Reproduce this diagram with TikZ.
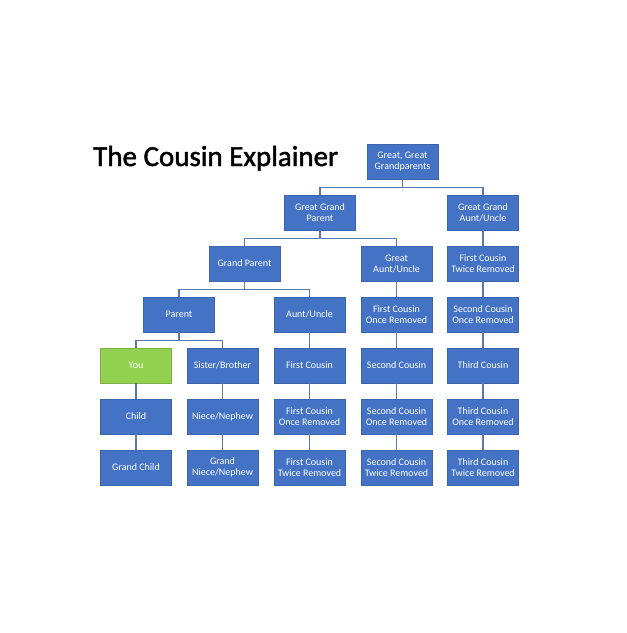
\documentclass[tikz,border=0pt]{standalone}
\usepackage{fontspec}
\setmainfont{Carlito}
\usetikzlibrary{positioning}
\definecolor{famblue}{HTML}{4472C4}
\definecolor{famedge}{HTML}{3A64AE}
\definecolor{famline}{HTML}{5A78AA}
\definecolor{famgreen}{HTML}{92D050}
\tikzset{
  famnode/.style={rectangle, fill=famblue, draw=famedge, line width=0.6pt, text=white,
    align=center, minimum width=71pt, minimum height=35pt, inner sep=1pt,
    font=\fontsize{10}{11}\selectfont},
  famyou/.style={famnode, fill=famgreen, draw=famgreen!85!black},
  famlink/.style={draw=famline, line width=1.2pt},
}
\begin{document}
\begin{tikzpicture}[x=1pt, y=-1pt, node distance=15.4pt]
  \useasboundingbox[fill=white] (0,0) rectangle (627,633);
  \node[anchor=base west, inner sep=0pt, font=\fontsize{29}{31}\selectfont] (title) at (93,166)
    {\special{pdf:literal direct 2 Tr 0.45 w 0 G 0 g}The Cousin Explainer\special{pdf:literal direct 0 Tr}};
  % top of the tree
  \node[famnode] (ggp) at (402.5,161.5) {Great, Great\\Grandparents};
  \node[famnode] (ggparent) at (320,212.5) {Great Grand\\Parent};
  \node[famnode] (ggaunt) at (483,212.5) {Great Grand\\Aunt/Uncle};
  \node[famnode] (gparent) at (244.5,263.5) {Grand Parent};
  \node[famnode] (gaunt) at (396.5,263.5) {Great\\Aunt/Uncle};
  \node[famnode, below=of ggaunt] (fctr) {First Cousin\\Twice Removed};
  \node[famnode] (parent) at (179,314.5) {Parent};
  \node[famnode] (aunt) at (309.5,314.5) {Aunt/Uncle};
  \node[famnode, below=of gaunt] (fcor) {First Cousin\\Once Removed};
  \node[famnode, below=of fctr] (scor) {Second Cousin\\Once Removed};
  % your generation and below
  \node[famyou] (you) at (136,365.5) {You};
  \node[famnode] (sibling) at (222.5,365.5) {Sister/Brother};
  \node[famnode, below=of aunt] (fc) {First Cousin};
  \node[famnode, below=of fcor] (sc) {Second Cousin};
  \node[famnode, below=of scor] (tc) {Third Cousin};
  \node[famnode, below=of you] (child) {Child};
  \node[famnode, below=of sibling] (niece) {Niece/Nephew};
  \node[famnode, below=of fc] (fcor2) {First Cousin\\Once Removed};
  \node[famnode, below=of sc] (scor2) {Second Cousin\\Once Removed};
  \node[famnode, below=of tc] (tcor) {Third Cousin\\Once Removed};
  \node[famnode, below=of child] (gchild) {Grand Child};
  \node[famnode, below=of niece] (gniece) {Grand\\Niece/Nephew};
  \node[famnode, below=of fcor2] (fctr2) {First Cousin\\Twice Removed};
  \node[famnode, below=of scor2] (sctr) {Second Cousin\\Twice Removed};
  \node[famnode, below=of tcor] (tctr) {Third Cousin\\Twice Removed};
  % branches
  \foreach \a/\b in {ggp/ggparent,ggp/ggaunt,ggparent/gparent,ggparent/gaunt,
                     gparent/parent,gparent/aunt,parent/you,parent/sibling}
    \draw[famlink] (\a.south) -- ++(0,8) -| (\b.north);
  % straight lines
  \foreach \a/\b in {ggaunt/fctr,fctr/scor,scor/tc,tc/tcor,tcor/tctr,
                     gaunt/fcor,fcor/sc,sc/scor2,scor2/sctr,
                     aunt/fc,fc/fcor2,fcor2/fctr2,
                     sibling/niece,niece/gniece,you/child,child/gchild}
    \draw[famlink] (\a) -- (\b);
\end{tikzpicture}
\end{document}
